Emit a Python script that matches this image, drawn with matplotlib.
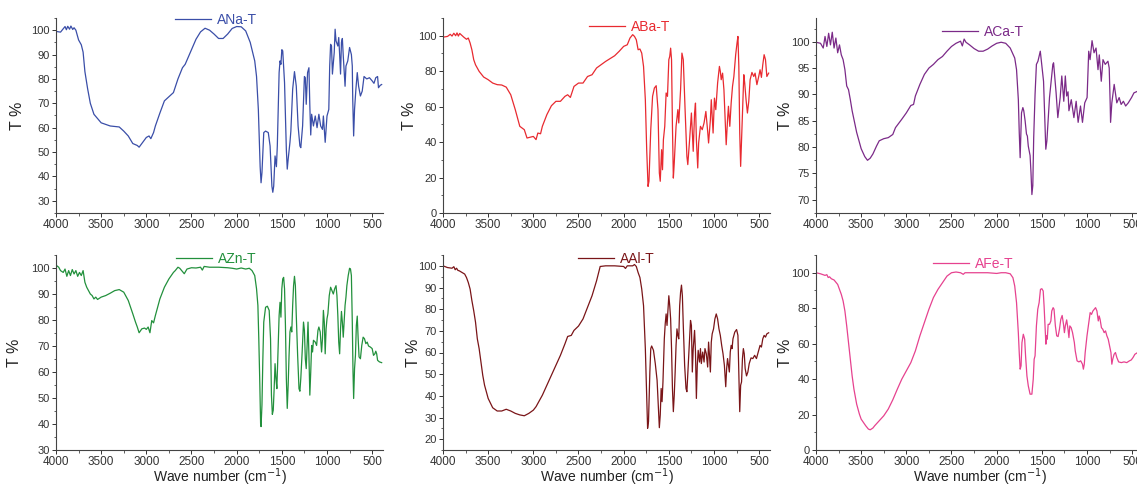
import numpy as np
import matplotlib
matplotlib.use("Agg")
import matplotlib.pyplot as plt
from matplotlib.ticker import MultipleLocator, AutoMinorLocator

plt.rcParams["font.family"] = ["Liberation Sans", "DejaVu Sans"]

# FTIR spectra: (wave number cm-1, T %)
ana = [(4000, 99.5), (3950, 99.2), (3920, 100.6), (3900, 101.5), (3885, 100.2), (3870, 101.6),
       (3850, 100.4), (3835, 101.7), (3815, 100.3), (3800, 101.0), (3780, 100.0), (3750, 96.0),
       (3720, 94.0), (3700, 91.0), (3680, 83.0), (3650, 76.0), (3620, 70.0), (3580, 65.5),
       (3500, 62.0), (3400, 60.7), (3300, 60.3), (3250, 58.6), (3200, 56.6), (3150, 53.5),
       (3100, 52.7), (3080, 52.0), (3050, 53.5), (3000, 56.0), (2970, 56.6), (2950, 55.5),
       (2920, 58.0), (2900, 60.7), (2850, 66.0), (2800, 71.0), (2750, 72.7), (2700, 74.4),
       (2650, 80.0), (2600, 84.6), (2570, 86.0), (2500, 92.0), (2450, 96.3), (2400, 99.3),
       (2350, 100.8), (2300, 100.0), (2250, 98.4), (2200, 96.6), (2150, 96.6), (2100, 98.4),
       (2050, 100.7), (2000, 101.5), (1950, 101.4), (1900, 99.7), (1850, 95.0), (1800, 87.4),
       (1780, 81.0), (1760, 67.5), (1740, 44.0), (1730, 37.4), (1720, 41.5), (1700, 58.0),
       (1680, 58.6), (1650, 58.0), (1630, 52.5), (1610, 36.0), (1600, 33.5), (1590, 36.0),
       (1575, 48.4), (1560, 44.0), (1550, 52.5), (1530, 82.6), (1520, 87.4), (1510, 86.0),
       (1500, 92.0), (1490, 91.5), (1470, 78.5), (1450, 51.0), (1440, 43.0), (1430, 47.0),
       (1410, 54.0), (1400, 58.6), (1380, 75.8), (1360, 83.0), (1340, 77.0), (1320, 60.7),
       (1300, 52.5), (1290, 51.8), (1270, 60.7), (1250, 81.0), (1240, 80.5), (1230, 69.6),
       (1215, 82.6), (1200, 84.6), (1190, 69.0), (1180, 57.0), (1170, 65.5), (1150, 60.7),
       (1130, 64.8), (1110, 60.0), (1090, 65.5), (1070, 60.7), (1050, 59.3), (1040, 64.8),
       (1020, 54.0), (1000, 64.8), (980, 67.5), (970, 85.3), (960, 94.2), (950, 93.5),
       (940, 82.0), (920, 90.8), (910, 100.4), (900, 95.6), (880, 93.5), (870, 97.0),
       (860, 90.0), (850, 82.0), (840, 95.0), (830, 96.6), (820, 89.5), (800, 77.0),
       (790, 85.3), (770, 87.4), (750, 92.9), (730, 90.0), (720, 85.3), (715, 71.6),
       (705, 56.6), (695, 67.5), (680, 75.8), (665, 82.6), (650, 77.0), (630, 73.0),
       (610, 75.0), (590, 81.0), (560, 80.0), (530, 80.5), (500, 79.2), (480, 78.2),
       (460, 80.5), (440, 81.0), (430, 76.4), (410, 77.4), (395, 77.7)]

aba = [(4000, 99.2), (3950, 99.6), (3920, 100.8), (3900, 99.8), (3880, 101.4), (3860, 100.0),
       (3845, 101.6), (3830, 99.8), (3815, 101.3), (3800, 100.6), (3770, 99.2), (3740, 98.0),
       (3720, 98.7), (3700, 95.9), (3680, 92.0), (3660, 86.5), (3640, 83.6), (3600, 79.9),
       (3550, 76.7), (3500, 75.2), (3450, 73.3), (3400, 72.4), (3350, 72.2), (3300, 71.0),
       (3250, 66.7), (3200, 58.3), (3150, 48.9), (3100, 47.0), (3070, 42.3), (3000, 43.2),
       (2970, 41.4), (2950, 45.1), (2920, 44.7), (2900, 48.9), (2850, 55.5), (2800, 60.5),
       (2750, 63.0), (2700, 63.0), (2650, 65.8), (2620, 66.7), (2590, 65.2), (2550, 71.4),
       (2500, 73.3), (2450, 73.3), (2400, 77.0), (2350, 78.0), (2300, 81.8), (2200, 85.5),
       (2100, 88.7), (2050, 91.2), (2000, 94.0), (1960, 94.9), (1930, 98.7), (1900, 100.6),
       (1880, 99.6), (1860, 97.7), (1840, 92.1), (1820, 92.5), (1800, 90.2), (1780, 82.7),
       (1760, 63.9), (1745, 35.7), (1730, 15.0), (1720, 17.9), (1700, 47.0), (1680, 65.8),
       (1660, 70.5), (1640, 71.8), (1620, 58.3), (1605, 22.6), (1595, 17.9), (1580, 35.7),
       (1570, 24.4), (1560, 41.4), (1545, 48.9), (1530, 67.7), (1515, 65.8), (1500, 86.5),
       (1490, 88.3), (1480, 93.0), (1470, 86.5), (1460, 48.9), (1450, 19.7), (1440, 28.2),
       (1420, 48.9), (1400, 58.3), (1390, 50.8), (1370, 69.5), (1355, 90.2), (1340, 86.5),
       (1320, 58.3), (1300, 31.9), (1290, 27.3), (1270, 41.4), (1250, 56.4), (1240, 45.1),
       (1230, 34.8), (1215, 56.4), (1205, 62.0), (1195, 41.4), (1180, 25.4), (1170, 39.5),
       (1150, 48.9), (1130, 47.0), (1110, 50.8), (1090, 57.3), (1070, 46.0), (1060, 39.5),
       (1040, 52.6), (1030, 63.9), (1010, 45.1), (995, 64.8), (980, 58.3), (960, 73.3),
       (940, 82.7), (930, 79.9), (920, 75.2), (905, 78.9), (890, 69.5), (875, 50.8),
       (865, 38.5), (850, 52.6), (840, 60.2), (825, 48.9), (810, 62.0), (795, 71.4),
       (780, 77.0), (760, 89.3), (745, 95.9), (735, 99.6), (725, 82.7), (715, 45.1),
       (705, 26.3), (695, 41.4), (685, 56.4), (670, 78.0), (660, 73.3), (645, 63.9),
       (630, 56.4), (615, 63.0), (600, 75.2), (580, 79.3), (560, 77.0), (545, 78.9),
       (525, 72.4), (505, 77.0), (490, 80.8), (475, 76.5), (460, 83.6), (445, 89.3),
       (430, 86.5), (415, 77.0), (395, 78.9)]

aca = [(4000, 99.9), (3950, 99.7), (3920, 98.8), (3900, 101.0), (3880, 99.1), (3860, 101.6),
       (3840, 99.4), (3820, 101.8), (3800, 98.8), (3780, 100.7), (3760, 97.9), (3740, 99.4),
       (3720, 97.5), (3700, 96.6), (3680, 94.7), (3660, 91.6), (3640, 90.9), (3620, 89.0),
       (3600, 86.9), (3580, 85.3), (3550, 82.8), (3520, 80.9), (3500, 79.7), (3460, 78.2),
       (3430, 77.5), (3400, 77.9), (3370, 78.7), (3330, 80.2), (3300, 81.2), (3250, 81.6),
       (3200, 81.8), (3150, 82.4), (3120, 83.7), (3050, 85.3), (3000, 86.5), (2950, 87.9),
       (2920, 88.1), (2900, 89.7), (2850, 91.9), (2800, 93.8), (2750, 95.0), (2700, 95.7),
       (2650, 96.6), (2600, 97.2), (2550, 98.2), (2500, 99.1), (2450, 99.7), (2400, 100.1),
       (2380, 99.2), (2360, 100.5), (2340, 99.9), (2300, 99.4), (2250, 98.7), (2200, 98.2),
       (2150, 98.2), (2100, 98.6), (2050, 99.2), (2000, 99.7), (1950, 99.9), (1900, 99.7),
       (1850, 98.8), (1800, 96.9), (1780, 94.7), (1760, 89.0), (1750, 82.8), (1740, 78.0),
       (1735, 80.9), (1725, 86.5), (1710, 87.5), (1700, 86.9), (1685, 85.0), (1670, 82.5),
       (1660, 82.1), (1650, 80.2), (1630, 78.4), (1620, 75.2), (1610, 71.0), (1600, 72.7),
       (1590, 81.8), (1575, 90.0), (1560, 95.7), (1543, 96.3), (1517, 98.2), (1481, 92.5),
       (1456, 79.6), (1444, 81.2), (1415, 89.4), (1378, 95.7), (1370, 96.0), (1342, 90.3),
       (1323, 85.6), (1297, 89.4), (1279, 93.5), (1257, 88.7), (1240, 93.5), (1225, 89.7),
       (1210, 90.5), (1200, 86.9), (1174, 89.0), (1145, 85.6), (1120, 88.7), (1098, 84.7),
       (1072, 87.8), (1050, 84.7), (1025, 88.4), (999, 89.4), (981, 98.2), (966, 96.6),
       (944, 100.2), (922, 97.9), (900, 98.8), (878, 94.7), (864, 97.5), (842, 92.5),
       (823, 96.6), (798, 95.7), (768, 96.3), (754, 95.0), (743, 88.1), (739, 84.7),
       (725, 88.4), (699, 91.9), (670, 88.4), (644, 89.4), (622, 88.1), (597, 88.7),
       (572, 87.8), (543, 88.4), (507, 89.4), (480, 90.3), (440, 90.6), (395, 90.2)]

azn = [(4000, 101.1), (3970, 100.3), (3950, 99.0), (3920, 98.3), (3900, 99.6), (3880, 96.8),
       (3860, 99.0), (3840, 97.1), (3820, 99.4), (3800, 97.7), (3780, 99.0), (3760, 96.8),
       (3740, 98.3), (3720, 97.1), (3700, 99.0), (3680, 94.5), (3660, 92.6), (3640, 91.3),
       (3620, 90.0), (3600, 89.4), (3580, 88.1), (3560, 88.8), (3540, 87.9), (3500, 88.8),
       (3450, 89.4), (3400, 90.3), (3350, 91.3), (3300, 91.7), (3250, 90.7), (3200, 87.5),
       (3150, 82.4), (3120, 79.2), (3100, 77.3), (3080, 75.1), (3050, 76.6), (3020, 76.9),
       (3000, 76.4), (2980, 77.3), (2960, 75.1), (2940, 79.8), (2920, 78.9), (2900, 81.7),
       (2850, 88.1), (2800, 92.6), (2750, 95.8), (2700, 98.3), (2680, 99.0), (2650, 100.3),
       (2630, 99.9), (2600, 98.6), (2580, 97.8), (2550, 99.6), (2500, 100.1), (2450, 100.0),
       (2400, 100.3), (2380, 99.2), (2360, 100.6), (2300, 100.3), (2200, 100.3), (2100, 100.1),
       (2050, 99.9), (2000, 99.6), (1950, 100.0), (1900, 99.6), (1860, 99.9), (1830, 99.0),
       (1800, 97.1), (1780, 92.0), (1765, 85.6), (1755, 72.8), (1745, 57.5), (1735, 40.2),
       (1730, 39.0), (1720, 47.3), (1710, 65.1), (1700, 79.2), (1680, 84.9), (1660, 85.3),
       (1640, 83.7), (1625, 72.8), (1615, 51.1), (1605, 43.7), (1595, 45.3), (1585, 53.6),
       (1575, 63.2), (1565, 57.5), (1555, 53.6), (1545, 65.1), (1530, 81.7), (1520, 86.8),
       (1510, 81.1), (1500, 92.0), (1490, 95.8), (1480, 96.4), (1470, 92.0), (1460, 77.9),
       (1450, 57.5), (1440, 46.0), (1430, 54.9), (1420, 66.4), (1410, 75.4), (1400, 77.3),
       (1390, 75.4), (1380, 85.6), (1370, 93.2), (1360, 96.8), (1350, 93.2), (1340, 81.7),
       (1325, 66.4), (1310, 53.6), (1300, 52.6), (1290, 57.5), (1275, 67.7), (1260, 79.2),
       (1250, 76.0), (1240, 65.1), (1230, 61.3), (1220, 70.2), (1210, 79.2), (1200, 66.4),
       (1190, 51.1), (1180, 60.0), (1170, 70.2), (1160, 67.7), (1150, 72.2), (1130, 71.5),
       (1115, 70.2), (1100, 76.0), (1090, 77.3), (1075, 75.4), (1060, 67.7), (1050, 72.8),
       (1040, 83.7), (1030, 79.2), (1020, 67.0), (1010, 76.6), (1000, 80.5), (990, 82.4),
       (975, 89.4), (960, 92.6), (945, 91.3), (930, 90.0), (915, 92.0), (900, 93.2),
       (890, 89.4), (880, 81.7), (870, 71.5), (860, 67.0), (850, 76.6), (840, 83.3),
       (830, 79.2), (820, 73.4), (810, 79.8), (800, 85.6), (790, 88.8), (780, 93.2),
       (765, 97.1), (750, 99.9), (740, 99.6), (730, 97.1), (720, 79.2), (712, 60.0),
       (705, 49.8), (695, 61.3), (685, 66.4), (675, 77.9), (665, 81.5), (655, 72.8),
       (645, 65.8), (630, 65.1), (615, 70.2), (600, 73.4), (585, 72.8), (570, 70.9),
       (555, 71.5), (540, 70.0), (520, 69.6), (500, 69.0), (485, 66.4), (470, 67.0),
       (460, 68.0), (450, 67.0), (440, 64.5), (420, 63.9), (395, 63.6)]

aal = [(4000, 100.0), (3950, 99.2), (3900, 98.9), (3880, 99.6), (3865, 98.2), (3850, 98.9),
       (3835, 97.9), (3820, 97.7), (3800, 97.2), (3760, 96.2), (3740, 94.6), (3720, 92.3),
       (3700, 89.3), (3680, 83.9), (3660, 79.3), (3640, 74.0), (3620, 66.3), (3600, 61.8),
       (3580, 55.6), (3560, 49.5), (3540, 44.9), (3520, 41.9), (3500, 38.8), (3450, 34.5),
       (3400, 33.0), (3350, 33.0), (3300, 33.8), (3250, 33.0), (3200, 31.9), (3150, 31.2),
       (3100, 30.8), (3050, 31.9), (3000, 33.4), (2970, 35.0), (2950, 36.5), (2900, 40.3),
       (2850, 44.9), (2800, 49.5), (2750, 54.1), (2700, 58.7), (2650, 64.0), (2620, 67.4),
       (2580, 67.9), (2550, 70.2), (2500, 72.2), (2450, 75.5), (2400, 80.9), (2350, 86.2),
       (2300, 93.1), (2260, 99.7), (2200, 100.0), (2100, 100.0), (2000, 99.7), (1980, 98.8),
       (1960, 100.0), (1900, 100.0), (1880, 100.6), (1860, 99.7), (1840, 96.9), (1820, 94.6),
       (1800, 89.3), (1780, 81.6), (1760, 61.8), (1745, 38.8), (1735, 25.0), (1725, 28.1),
       (1710, 51.0), (1700, 61.8), (1690, 63.0), (1670, 61.0), (1650, 54.9), (1630, 47.2),
       (1615, 34.2), (1605, 25.3), (1595, 31.2), (1585, 43.4), (1575, 37.3), (1565, 46.4),
       (1550, 66.3), (1540, 73.2), (1530, 77.8), (1520, 72.5), (1510, 79.3), (1500, 86.2),
       (1490, 81.6), (1480, 75.5), (1470, 61.8), (1460, 43.4), (1450, 32.7), (1440, 40.3),
       (1430, 51.0), (1420, 63.3), (1410, 70.9), (1400, 67.9), (1390, 66.3), (1380, 81.6),
       (1370, 87.8), (1360, 91.1), (1350, 86.2), (1340, 72.5), (1325, 54.1), (1310, 43.4),
       (1300, 41.9), (1285, 54.1), (1270, 66.3), (1260, 74.8), (1250, 72.5), (1240, 51.0),
       (1230, 61.8), (1215, 70.2), (1205, 60.2), (1195, 38.8), (1185, 54.1), (1175, 61.0),
       (1160, 55.6), (1150, 61.8), (1140, 54.9), (1125, 60.2), (1110, 55.6), (1100, 61.8),
       (1085, 59.4), (1070, 53.3), (1060, 64.8), (1050, 58.7), (1040, 51.0), (1030, 64.8),
       (1020, 68.6), (1005, 70.9), (990, 75.5), (975, 77.8), (960, 75.5), (945, 70.9),
       (930, 67.9), (915, 63.3), (900, 59.4), (885, 54.1), (870, 44.2), (860, 52.6),
       (850, 57.2), (840, 54.1), (830, 51.0), (820, 60.2), (810, 63.3), (800, 61.8),
       (790, 66.3), (770, 69.4), (750, 70.6), (735, 67.9), (725, 51.0), (715, 32.7),
       (705, 44.9), (695, 46.4), (685, 57.2), (675, 61.8), (665, 59.4), (655, 52.6),
       (640, 49.2), (625, 51.0), (610, 54.9), (590, 57.5), (570, 57.2), (550, 58.7),
       (530, 57.2), (510, 60.2), (490, 63.3), (475, 62.5), (460, 66.3), (445, 67.9),
       (430, 67.1), (415, 68.6), (395, 69.1)]

afe = [(4000, 100.0), (3950, 99.4), (3900, 98.5), (3880, 98.9), (3865, 97.3), (3850, 97.7),
       (3830, 96.6), (3800, 95.9), (3760, 93.4), (3740, 90.6), (3720, 87.8), (3700, 84.1),
       (3680, 78.4), (3660, 70.0), (3640, 60.6), (3620, 51.2), (3600, 41.8), (3580, 34.3),
       (3550, 25.9), (3520, 20.3), (3500, 17.4), (3450, 13.7), (3420, 11.8), (3400, 11.4),
       (3370, 12.4), (3350, 13.7), (3300, 16.5), (3250, 19.3), (3200, 23.1), (3150, 28.3),
       (3100, 34.3), (3050, 40.0), (3000, 44.7), (2950, 49.3), (2900, 55.9), (2850, 64.4),
       (2800, 71.9), (2750, 79.4), (2700, 86.0), (2650, 90.6), (2600, 94.4), (2550, 98.1),
       (2500, 100.0), (2450, 100.4), (2400, 100.0), (2370, 99.1), (2350, 100.0), (2300, 100.0),
       (2200, 100.0), (2100, 100.0), (2000, 99.6), (1950, 100.0), (1900, 100.0), (1850, 99.4),
       (1820, 97.2), (1800, 92.5), (1780, 83.1), (1760, 66.0), (1750, 54.8), (1740, 45.6),
       (1730, 47.5), (1720, 60.6), (1705, 65.3), (1690, 62.5), (1680, 53.1), (1665, 41.8),
       (1650, 36.2), (1630, 31.5), (1610, 31.5), (1595, 40.0), (1585, 51.2), (1575, 53.1),
       (1560, 70.0), (1545, 79.4), (1530, 83.1), (1515, 90.6), (1500, 91.0), (1485, 89.7),
       (1475, 81.2), (1465, 70.0), (1455, 59.7), (1450, 64.4), (1440, 62.5), (1430, 70.9),
       (1415, 70.9), (1400, 72.8), (1390, 78.4), (1375, 80.3), (1365, 79.4), (1350, 70.0),
       (1335, 64.4), (1320, 64.0), (1305, 68.1), (1290, 73.7), (1275, 75.9), (1260, 70.9),
       (1250, 66.2), (1240, 70.0), (1225, 73.4), (1210, 68.1), (1200, 63.4), (1190, 70.0),
       (1175, 69.0), (1160, 66.2), (1150, 63.4), (1140, 60.6), (1130, 55.9), (1120, 53.1),
       (1110, 50.3), (1090, 49.7), (1070, 50.3), (1050, 48.4), (1040, 45.6), (1030, 48.4),
       (1020, 55.0), (1000, 64.4), (980, 71.9), (965, 77.5), (950, 76.5), (935, 78.4),
       (920, 79.4), (905, 80.3), (890, 78.4), (875, 72.8), (865, 75.6), (855, 73.7),
       (840, 69.0), (825, 68.1), (810, 66.2), (795, 67.2), (780, 64.4), (765, 62.5),
       (750, 58.7), (735, 55.0), (725, 48.4), (715, 51.2), (700, 54.0), (685, 55.0),
       (670, 52.2), (650, 49.7), (620, 49.3), (590, 49.7), (560, 49.3), (530, 50.3),
       (510, 50.8), (490, 52.2), (470, 54.0), (440, 55.0), (395, 56.0)]

labels = ["ANa-T", "ABa-T", "ACa-T", "AZn-T", "AAl-T", "AFe-T"]
spectra = [ana, aba, aca, azn, aal, afe]
colors = ["#3a4ea8", "#e82a30", "#7b2a88", "#22903c", "#7a1518", "#e6428f"]
ylims = [(25, 105), (0, 110), (67.5, 104.5), (30, 105), (15, 105), (0, 110)]
ysteps = [10, 20, 5, 10, 10, 20]
ymins = [30, 0, 70, 30, 20, 0]
legend_pos = [(0.49, 0.99), (0.57, 0.955), (0.51, 0.93), (0.49, 0.98), (0.53, 0.98), (0.48, 0.955)]
# right edge of the rotated "T %" label, in axes fraction
ylabel_x = [-0.095, -0.08, -0.07, -0.104, -0.067, -0.07]

fig = plt.figure(figsize=(11.37, 4.86), dpi=100)
lefts = [56 / 1137, 443 / 1137, 816 / 1137]
bottoms = [1 - 213 / 486, 1 - 450 / 486]
width = 327 / 1137
height = 195 / 486

for i, (lab, data) in enumerate(zip(labels, spectra)):
    row, col = divmod(i, 3)
    ax = fig.add_axes([lefts[col], bottoms[row], width, height])
    arr = np.array(data)
    ax.plot(arr[:, 0], arr[:, 1], color=colors[i], lw=0.9, label=lab)
    ax.set_xlim(4000, 380)
    ax.set_ylim(*ylims[i])
    ax.xaxis.set_major_locator(MultipleLocator(500))
    ax.xaxis.set_minor_locator(AutoMinorLocator(2))
    ax.set_yticks(list(np.arange(ymins[i], 101, ysteps[i])))
    ax.yaxis.set_minor_locator(AutoMinorLocator(2))
    for s in ["top", "right"]:
        ax.spines[s].set_visible(False)
    for s in ["left", "bottom"]:
        ax.spines[s].set_color("#444444")
        ax.spines[s].set_linewidth(0.8)
    ax.tick_params(which="major", direction="out", length=3, width=0.7,
                   colors="#333333", pad=1.5)
    ax.tick_params(axis="x", labelsize=8.5)
    ax.tick_params(axis="y", labelsize=8)
    ax.tick_params(which="minor", direction="out", length=1.8, width=0.6, colors="#444444")
    ax.set_ylabel("T %", fontsize=11.5, color="#222222")
    ax.yaxis.set_label_coords(ylabel_x[i], 0.5)
    if row == 1:
        ax.set_xlabel("Wave number (cm$^{-1}$)", fontsize=10, color="#222222")
        ax.xaxis.set_label_coords(0.5, -0.085)
    ax.legend(loc="center", bbox_to_anchor=legend_pos[i], frameon=False,
              handlelength=2.6, handletextpad=0.4, fontsize=10, labelcolor="linecolor")

fig.savefig("out.png", dpi=100)
